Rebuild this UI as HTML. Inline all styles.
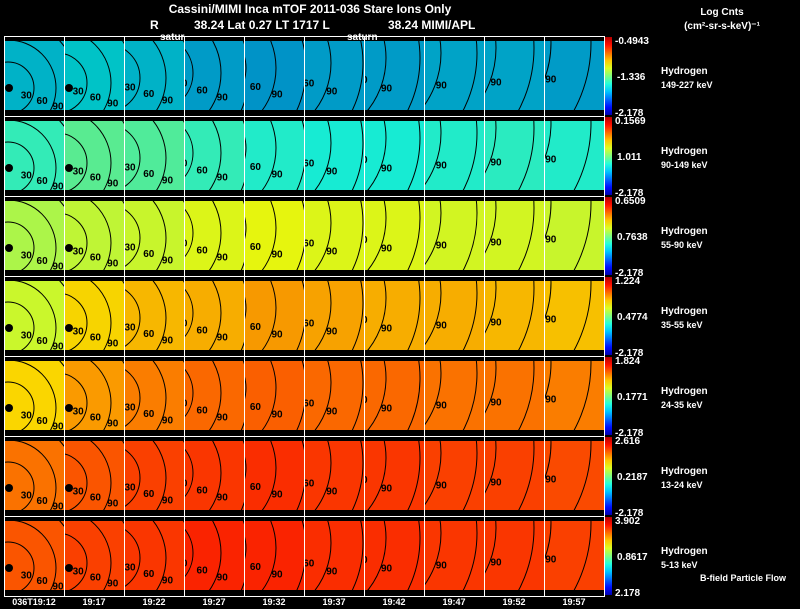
<!DOCTYPE html>
<html><head><meta charset="utf-8"><style>
html,body{margin:0;padding:0;background:#000;width:800px;height:609px;overflow:hidden;font-family:"Liberation Sans",sans-serif;color:#fff}
svg{display:block;position:absolute;left:0;top:0}
text{font-family:"Liberation Sans",sans-serif;fill:#fff}
</style></head><body>
<svg id="chart" width="800" height="609" viewBox="0 0 800 609">
<text x="310" y="13" font-size="12" text-anchor="middle" font-weight="bold">Cassini/MIMI Inca mTOF  2011-036    Stare     Ions Only</text>
<text x="150" y="29" font-size="12" font-weight="bold">R</text>
<text x="194" y="29" font-size="12" font-weight="bold">38.24 Lat 0.27 LT 1717 L</text>
<text x="388" y="29" font-size="12" font-weight="bold">38.24   MIMI/APL</text>
<text x="722" y="15" font-size="10" text-anchor="middle" font-weight="bold">Log Cnts</text>
<text x="722" y="29" font-size="10" text-anchor="middle" font-weight="bold">(cm²-sr-s-keV)⁻¹</text>
<g id="panels"></g>
<text x="700" y="581" font-size="9" font-weight="bold">B-field Particle Flow</text>
</svg>
<script>
const times=["036T19:12","19:17","19:22","19:27","19:32","19:37","19:42","19:47","19:52","19:57"];
const species=["149-227 keV","90-149 keV","55-90 keV","35-55 keV","24-35 keV","13-24 keV","5-13 keV"];
const cbTop=["-0.4943","0.1569","0.6509","1.224","1.824","2.616","3.902"];
const cbMid=["-1.336","1.011","0.7638","0.4774","0.1771","0.2187","0.8617"];
const cbBot=["-2.178","-2.178","-2.178","-2.178","-2.178","-2.178","2.178"];
const row0=[0.35,0.37,0.35,0.32,0.31,0.32,0.32,0.33,0.33,0.32];
const row1=[0.43,0.47,0.46,0.43,0.41,0.40,0.40,0.41,0.42,0.41];
const row2=[0.55,0.57,0.58,0.60,0.61,0.60,0.60,0.59,0.59,0.58];
const row3=[0.58,0.66,0.69,0.70,0.72,0.71,0.70,0.70,0.69,0.68];
const row4=[0.66,0.72,0.75,0.77,0.78,0.77,0.77,0.76,0.76,0.75];
const row5=[0.76,0.79,0.81,0.82,0.83,0.82,0.82,0.81,0.81,0.80];
const row6=[0.79,0.81,0.82,0.84,0.84,0.83,0.83,0.82,0.82,0.81];
const levels=[row0,row1,row2,row3,row4,row5,row6];
const darkness=[0.22,0.08,0.04,0.03,0.02,0.02,0.02];
const X0=4,Y0=36,PW=60,PH=80;
const xPos=c=>X0+c*PW, yPos=r=>Y0+r*PH;
function jet(v){
  const f=x=>Math.max(0,Math.min(1,x));
  const r=f(1.5-Math.abs(4*v-3)),g=f(1.5-Math.abs(4*v-2)),b=f(1.5-Math.abs(4*v-1));
  return `rgb(${Math.round(r*255)},${Math.round(g*255)},${Math.round(b*255)})`;
}
const NS="http://www.w3.org/2000/svg";
const G=document.getElementById('panels');
function mk(t,a,p){const e=document.createElementNS(NS,t);for(const k in a)e.setAttribute(k,a[k]);(p||G).appendChild(e);return e;}
const defs=mk('defs',{});
const lg=mk('linearGradient',{id:'jetg',x1:0,y1:1,x2:0,y2:0},defs);
for(let i=0;i<=10;i++)mk('stop',{offset:i/10,'stop-color':jet(0.05+0.9*i/10)},lg);
for(let r=0;r<levels.length;r++){
  for(let c=0;c<times.length;c++){
    const x=xPos(c),y=yPos(r);
    const cp=mk('clipPath',{id:`cp${r}_${c}`},defs);
    mk('rect',{x:x,y:y,width:PW,height:PH},cp);
    const g=mk('g',{'clip-path':`url(#cp${r}_${c})`});
    const cell=mk('rect',{x:x,y:y+5,width:PW,height:PH-11,fill:jet(levels[r][c])},g);
    
    
    mk('rect',{x:x,y:y+5,width:PW,height:PH-11,fill:'#000','fill-opacity':darkness[r]},g);
    const cx=x+4-c*11,cy=y+52-c*5;
    [[26,4,'30'],[48,6,'60'],[70,8,'90']].forEach(([rad,gr,lab])=>{
      const R=rad+c*gr;
      mk('circle',{cx:cx,cy:cy,r:R,fill:'none',stroke:'#000','stroke-width':1},g);
      const t=mk('text',{x:cx+R*0.72-6,y:cy+R*0.25+4,'font-size':10,'font-weight':'bold'},g);
      t.style.fill='#000';t.textContent=lab;
    });
    if(c<2)mk('circle',{cx:x+5,cy:y+52,r:4,fill:'#000'},g);
    mk('rect',{x:x+0.5,y:y+0.5,width:PW,height:PH,fill:'none',stroke:'#fff','stroke-width':1});
  }
  const y=yPos(r);
  const cb=mk('rect',{x:605,y:y+1,width:7,height:PH-2,fill:'url(#jetg)'});
  
  
  const t1=mk('text',{x:615,y:y+8,'font-size':10,'font-weight':'bold'});t1.textContent=cbTop[r];
  const t2=mk('text',{x:617,y:y+44,'font-size':10,'font-weight':'bold'});t2.textContent=cbMid[r];
  const t3=mk('text',{x:615,y:y+80,'font-size':10,'font-weight':'bold'});t3.textContent=cbBot[r];
  const l1=mk('text',{x:661,y:y+38,'font-size':10,'font-weight':'bold'});l1.textContent='Hydrogen';
  
  
  const l2=mk('text',{x:661,y:y+52,'font-size':9,'font-weight':'bold'});l2.textContent=species[r];
}
times.forEach((t,c)=>{
  const e=mk('text',{x:xPos(c)+30,y:605,'font-size':9,'text-anchor':'middle','font-weight':'bold'});
  e.textContent=t;
  
  
});
const s1=mk('text',{x:160,y:40,'font-size':10,'font-weight':'bold'});s1.textContent='satur';
const s2=mk('text',{x:347,y:40,'font-size':10,'font-weight':'bold'});s2.textContent='saturn';
</script>
</body></html>
